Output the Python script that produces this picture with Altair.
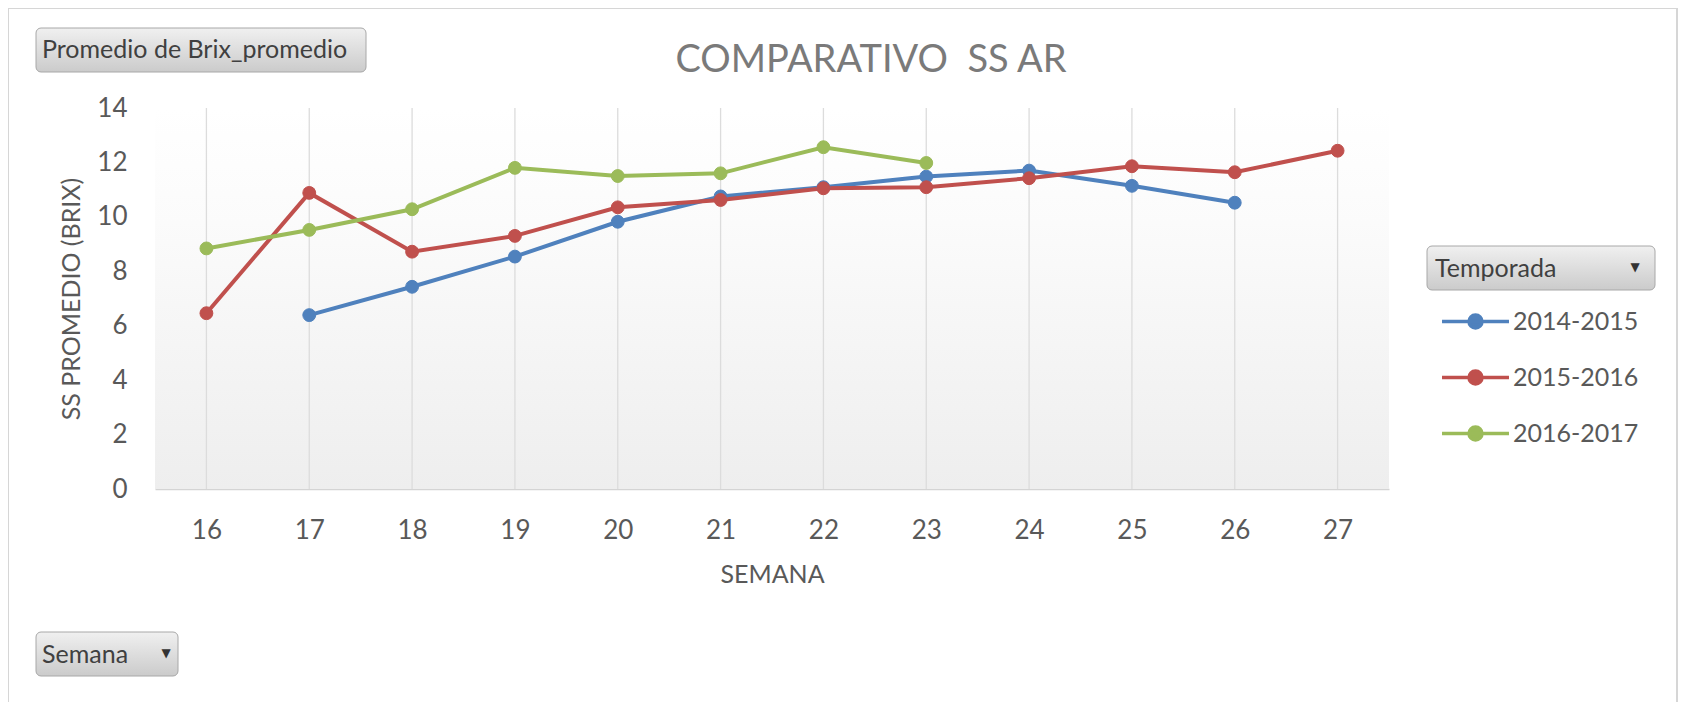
import altair as alt
import pandas as pd

# ---------------- data ----------------
semanas = [16, 17, 18, 19, 20, 21, 22, 23, 24, 25, 26, 27]
temporadas = ["2014-2015", "2015-2016", "2016-2017"]
brix_2014_2015 = [None, 6.39, 7.43, 8.54, 9.82, 10.75, 11.09, 11.48, 11.70, 11.14, 10.52, None]
brix_2015_2016 = [6.46, 10.88, 8.72, 9.30, 10.35, 10.62, 11.05, 11.09, 11.42, 11.86, 11.64, 12.43]
brix_2016_2017 = [8.84, 9.52, 10.28, 11.80, 11.50, 11.60, 12.56, 11.98, None, None, None, None]
y_ticks = [0, 2, 4, 6, 8, 10, 12, 14]
colores = ["#4F81BD", "#C0504D", "#9BBB59"]

titulo = "COMPARATIVO\u00a0 SS AR"
titulo_y = "SS PROMEDIO (BRIX)"
titulo_x = "SEMANA"
boton_valor = "Promedio de Brix_promedio"
boton_eje = "Semana"
boton_leyenda = "Temporada"

rows = []
for t, vals in zip(temporadas, [brix_2014_2015, brix_2015_2016, brix_2016_2017]):
    for s, v in zip(semanas, vals):
        if v is not None:
            rows.append({"semana": s, "temporada": t, "brix": v})
df = pd.DataFrame(rows)
df_sem = pd.DataFrame({"semana": semanas})

# ---------------- layout ----------------
W, H = 1234, 381
FONT = "Lato"
TXT = "#595959"
one = pd.DataFrame({"k": [0]})

sym_path = "M-5.15,0H5.15M1,0A1,1,0,1,1,-1,0A1,1,0,1,1,1,0Z"
leg = alt.Legend(
    title=None, orient="none", legendX=1308, legendY=201,
    symbolType=sym_path, symbolSize=169, symbolStrokeWidth=3.5,
    labelFont=FONT, labelFontSize=25, labelColor=TXT, labelOffset=25,
    rowPadding=29, padding=0, symbolOpacity=1,
)
cscale = alt.Scale(domain=temporadas, range=colores)
xscale = alt.Scale(type="point", padding=0.5, domain=semanas)

x_enc = alt.X(
    "semana:O",
    scale=xscale,
    axis=alt.Axis(
        title=titulo_x, labelAngle=0, grid=False,
        domainColor="#d4d4d4", domainWidth=1.5, ticks=False,
        labelFont=FONT, labelFontSize=26, labelColor=TXT, labelPadding=28,
        titleFont=FONT, titleFontSize=25, titleColor=TXT, titleFontWeight="normal",
        titleY=85, titleBaseline="middle",
    ),
)
y_enc = alt.Y(
    "brix:Q",
    scale=alt.Scale(domain=[0, 14], nice=False, zero=True),
    axis=alt.Axis(
        title=titulo_y, values=y_ticks, grid=False, domain=False, ticks=False,
        labelFont=FONT, labelFontSize=26, labelColor=TXT, labelPadding=28,
        titleFont=FONT, titleFontSize=25, titleColor=TXT, titleFontWeight="normal",
        titleAngle=270, titleBaseline="middle", titleAlign="center",
        titleX=-84, titleY=H / 2,
    ),
)

# border of the chart object
border = alt.Chart(one).mark_rect(fillOpacity=0, stroke="#d6d6d6", strokeWidth=2).encode(
    x=alt.value(-147), x2=alt.value(1522), y=alt.value(-100), y2=alt.value(620)
)

# plot area gradient
bg = alt.Chart(one).mark_rect(
    color=alt.Gradient(
        gradient="linear",
        stops=[alt.GradientStop(color="#ffffff", offset=0),
               alt.GradientStop(color="#fbfbfb", offset=0.3),
               alt.GradientStop(color="#eeeeee", offset=1)],
        x1=0, x2=0, y1=0, y2=1,
    )
).encode(x=alt.value(0), x2=alt.value(W), y=alt.value(0), y2=alt.value(H))

# vertical gridlines at each week (share the x scale and axis)
grid = alt.Chart(df_sem).mark_rule(color="#dcdcdc", strokeWidth=1.3).encode(
    x=x_enc,
    y=alt.value(0), y2=alt.value(H),
)

lines = alt.Chart(df).mark_line(strokeWidth=4).encode(
    x=x_enc, y=y_enc,
    stroke=alt.Stroke("temporada:N", scale=cscale, legend=leg),
    detail="temporada:N",
)
points = alt.Chart(df).mark_point(filled=True, size=165, strokeWidth=1, opacity=1).encode(
    x=x_enc, y=y_enc,
    fill=alt.Fill("temporada:N", scale=cscale, legend=leg),
    stroke=alt.Stroke("temporada:N", scale=cscale, legend=leg),
)

btn_grad = alt.Gradient(
    gradient="linear",
    stops=[alt.GradientStop(color="#f0f0f0", offset=0),
           alt.GradientStop(color="#cbcbcb", offset=1)],
    x1=0, x2=0, y1=0, y2=1,
)


def button(x0, x1, y0, y1):
    return alt.Chart(one).mark_rect(
        color=btn_grad, stroke="#a8a8a8", strokeWidth=1, cornerRadius=5
    ).encode(x=alt.value(x0), x2=alt.value(x1), y=alt.value(y0), y2=alt.value(y1))


def label(text, x, y, size=22, align="left", color="#404040", font=FONT, weight="normal"):
    return alt.Chart(one).mark_text(
        text=text, align=align, baseline="middle", font=font, fontSize=size,
        color=color, fontWeight=weight,
    ).encode(x=alt.value(x), y=alt.value(y))


b1 = button(-119, 211, -80, -36)
t1 = label(boton_valor, -113, -58, 25)
b2 = button(-119, 23, 524, 568)
t2 = label(boton_eje, -113, 547, 25)
a2 = label("▼", 11, 545, 12, align="center", color="#333333", font="DejaVu Sans")
b3 = button(1272, 1500, 138, 182)
t3 = label(boton_leyenda, 1280, 161, 25)
a3 = label("▼", 1480, 159, 12, align="center", color="#333333", font="DejaVu Sans")

title = label(titulo, 716, -47, 38, align="center", color="#7a7a7a")

chart = alt.layer(
    border, bg, grid, lines, points, b1, t1, b2, t2, a2, b3, t3, a3, title
).properties(
    width=W, height=H,
    autosize=alt.AutoSizeParams(type="none"),
    padding={"left": 147, "top": 100, "right": 290, "bottom": 213},
    background="white",
).configure_view(stroke=None)

chart.save("out.html", embed_options={"renderer": "svg", "actions": False})
